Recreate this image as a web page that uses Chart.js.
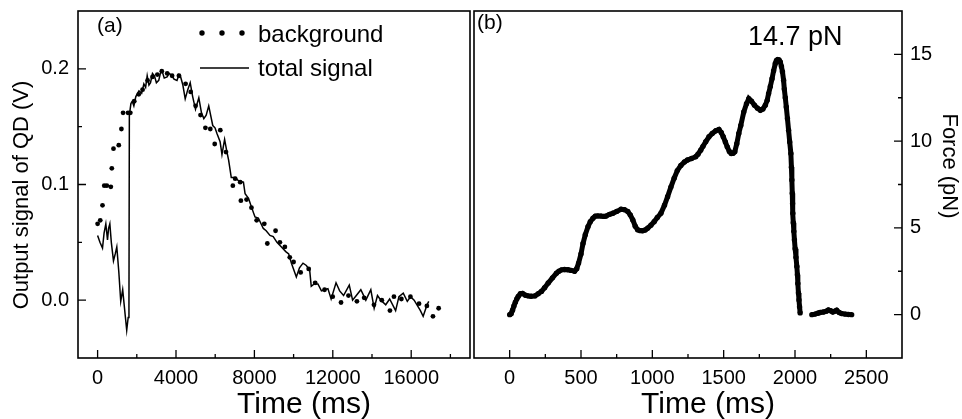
<!DOCTYPE html>
<html>
<head>
<meta charset="utf-8">
<script src="https://cdn.jsdelivr.net/npm/chart.js@4.4.0/dist/chart.umd.min.js"></script>
<style>
  html, body { margin: 0; padding: 0; background: #fff; }
  #wrap { position: relative; width: 962px; height: 419px; overflow: hidden; background: #fff; }
  #chart-a { position: absolute; left: 0; top: 0; }
  #chart-b { position: absolute; left: 470px; top: 0; }
</style>
</head>
<body>
<div id="wrap">
  <canvas id="chart-a" width="474" height="419"></canvas>
  <canvas id="chart-b" width="492" height="419"></canvas>
</div>
<script>
// panel (a): background (dots)
const bgTime = [0, 135, 250, 340, 470, 675, 725, 810, 1080, 1215, 1300, 1550, 1670, 1870, 2100, 2295, 2550, 2800,
  3050, 3275, 3550, 3800, 4150, 4490, 4750, 5000, 5250, 5500, 5750, 5975, 6260, 6550, 6900, 7020, 7275, 7310,
  7600, 7850, 8115, 8505, 8660, 9080, 9300, 9555, 9805, 10000, 10360, 10770, 11100, 11580, 11995, 12420, 12800,
  13230, 13600, 14100, 14500, 14915, 15120, 15500, 15960, 16400, 16800, 17110, 17400];
const bgSignal = [0.066, 0.069, 0.082, 0.099, 0.099, 0.098, 0.114, 0.131, 0.134, 0.148, 0.162, 0.162, 0.162, 0.172,
  0.178, 0.182, 0.190, 0.193, 0.195, 0.198, 0.196, 0.194, 0.194, 0.187, 0.180, 0.168, 0.160, 0.149, 0.148, 0.135,
  0.147, 0.128, 0.099, 0.105, 0.102, 0.086, 0.087, 0.080, 0.069, 0.066, 0.049, 0.060, 0.050, 0.046, 0.037, 0.033,
  0.024, 0.027, 0.015, 0.009, 0.003, -0.002, 0.004, -0.001, 0.002, -0.004, 0.000, -0.009, 0.003, 0.001, 0.003,
  -0.003, -0.005, -0.014, -0.007];

// panel (a): total signal (line)
const totalTime = [0, 120, 250, 330, 420, 505, 560, 625, 700, 810, 900, 980, 1080, 1180, 1280, 1350, 1420, 1485,
  1560, 1600, 1620, 1700, 1770, 1850, 1950, 2110, 2250, 2360, 2450, 2530, 2620, 2700, 2800, 2900, 3000, 3120,
  3200, 3290, 3400, 3545, 3650, 3800, 3900, 4050, 4150, 4220, 4350, 4470, 4600, 4725, 4850, 4995, 5165, 5300,
  5420, 5540, 5670, 5875, 5990, 6090, 6250, 6345, 6480, 6600, 6685, 6820, 7020, 7200, 7440, 7525, 7700, 7860,
  8030, 8200, 8455, 8600, 8795, 8960, 9150, 9380, 9600, 9750, 9890, 10140, 10300, 10480, 10650, 10820, 10900,
  11050, 11240, 11420, 11580, 11750, 11915, 12165, 12350, 12550, 12840, 13010, 13200, 13430, 13685, 13940,
  14110, 14280, 14450, 14700, 14900, 15205, 15375, 15595, 15800, 15965, 16150, 16470, 16610, 16810, 16895];
const totalSignal = [0.056, 0.050, 0.045, 0.058, 0.066, 0.052, 0.062, 0.066, 0.050, 0.034, 0.040, 0.046, 0.025,
  -0.001, 0.009, -0.003, -0.015, -0.026, -0.015, -0.007, 0.160, 0.170, 0.172, 0.168, 0.176, 0.181, 0.179, 0.187,
  0.184, 0.194, 0.186, 0.188, 0.196, 0.194, 0.188, 0.190, 0.196, 0.198, 0.192, 0.193, 0.196, 0.194, 0.191, 0.190,
  0.195, 0.194, 0.186, 0.174, 0.182, 0.188, 0.176, 0.165, 0.175, 0.162, 0.157, 0.160, 0.168, 0.151, 0.149, 0.144,
  0.137, 0.126, 0.139, 0.128, 0.121, 0.106, 0.106, 0.103, 0.102, 0.092, 0.088, 0.080, 0.072, 0.071, 0.062, 0.060,
  0.056, 0.055, 0.050, 0.046, 0.042, 0.040, 0.032, 0.020, 0.028, 0.032, 0.030, 0.026, 0.012, 0.014, 0.014, 0.008,
  0.009, 0.010, 0.001, 0.015, 0.008, 0.004, 0.013, 0.000, 0.004, 0.009, 0.000, 0.009, -0.007, 0.004, 0.000,
  -0.004, 0.001, -0.009, 0.003, 0.006, -0.001, 0.003, 0.000, -0.009, -0.014, -0.004, -0.001];

// panel (b): force before rupture
const forceTime = [0, 10, 20, 30, 40, 50, 60, 75, 90, 110, 130, 150, 177, 200, 223, 245, 270, 300, 328, 345, 363,
  385, 409, 430, 455, 470, 483, 500, 514, 530, 549, 565, 584, 600, 618, 640, 660, 676, 700, 723, 750, 781, 805,
  828, 845, 863, 880, 897, 915, 932, 950, 967, 990, 1013, 1035, 1060, 1085, 1107, 1130, 1153, 1175, 1200, 1225,
  1246, 1275, 1304, 1320, 1339, 1355, 1374, 1397, 1420, 1445, 1467, 1483, 1497, 1512, 1525, 1540, 1553, 1566,
  1578, 1592, 1606, 1620, 1641, 1660, 1676, 1695, 1716, 1737, 1757, 1775, 1792, 1805, 1815, 1827, 1839, 1850,
  1862, 1870, 1878, 1888, 1897, 1905, 1912, 1920, 1925, 1932, 1939, 1947, 1955, 1963, 1971, 1975, 1978, 1981,
  1983, 1985, 1988, 1992, 1996, 2001, 2007, 2013, 2017, 2020, 2024, 2028, 2032, 2036];
const forceValue = [0.0, 0.05, 0.25, 0.5, 0.72, 0.9, 1.05, 1.2, 1.22, 1.12, 1.08, 1.06, 1.08, 1.2, 1.34, 1.55, 1.82,
  2.12, 2.39, 2.5, 2.58, 2.6, 2.59, 2.55, 2.5, 2.65, 2.97, 3.5, 4.1, 4.6, 5.07, 5.35, 5.56, 5.68, 5.69, 5.68, 5.66,
  5.68, 5.78, 5.84, 5.95, 6.07, 6.05, 5.94, 5.75, 5.46, 5.1, 4.89, 4.84, 4.83, 4.88, 4.98, 5.15, 5.36, 5.6, 5.84,
  6.3, 6.8, 7.35, 7.86, 8.3, 8.6, 8.8, 8.91, 9.0, 9.1, 9.25, 9.48, 9.7, 9.96, 10.25, 10.44, 10.6, 10.67, 10.5,
  10.25, 9.95, 9.67, 9.4, 9.29, 9.3, 9.39, 9.85, 10.44, 10.9, 11.68, 12.15, 12.45, 12.3, 12.07, 11.9, 11.78,
  11.85, 12.07, 12.35, 12.74, 13.15, 13.6, 14.05, 14.47, 14.65, 14.7, 14.68, 14.56, 14.3, 14.0, 13.51, 13.0,
  12.5, 11.97, 11.3, 10.63, 9.95, 9.29, 8.5, 7.76, 7.0, 6.4, 5.84, 5.3, 4.8, 4.31, 3.8, 3.3, 2.78, 2.3, 1.8,
  1.25, 0.85, 0.45, 0.1];

// panel (b): after rupture
const tailTime = [2118, 2140, 2160, 2176, 2200, 2220, 2234, 2250, 2265, 2280, 2292, 2310, 2327, 2350, 2375, 2397];
const tailValue = [0.0, 0.03, 0.08, 0.12, 0.15, 0.2, 0.27, 0.22, 0.15, 0.2, 0.25, 0.12, 0.06, 0.03, 0.01, 0.0];

// ticks
const aXTicks = [0, 4000, 8000, 12000, 16000];
const aXMinor = [2000, 6000, 10000, 14000, 18000];
const aYTicks = [0, 0.1, 0.2];
const aYMinor = [0.05, 0.15];
const bXTicks = [0, 500, 1000, 1500, 2000, 2500];
const bXMinor = [250, 750, 1250, 1750, 2250];
const bYTicks = [0, 5, 10, 15];
const bYMinor = [2.5, 7.5, 12.5];

const FONT = "'Liberation Sans', Arial, Helvetica, sans-serif";
Chart.defaults.font.family = FONT;
Chart.defaults.color = '#000';

function toPoints(xs, ys) {
    return xs.map((x, i) => ({ x: x, y: ys[i] }));
}

// box around the plot, inward tick marks, free texts
const framePlugin = {
    id: 'frame',
    afterDraw(chart, args, opts) {
        const { ctx, chartArea: a, scales } = chart;
        const xs = scales.x, ys = scales.y;
        ctx.save();
        ctx.strokeStyle = '#000';
        ctx.lineWidth = 1.6;
        ctx.strokeRect(a.left, a.top, a.right - a.left, a.bottom - a.top);

        ctx.lineWidth = 1.3;
        ctx.beginPath();
        const xMark = (v, len) => {
            const p = xs.getPixelForValue(v);
            ctx.moveTo(p, a.bottom);
            ctx.lineTo(p, a.bottom - len);
        };
        const edge = opts.yRight ? a.right : a.left;
        const dir = opts.yRight ? -1 : 1;
        const yMark = (v, len) => {
            const p = ys.getPixelForValue(v);
            ctx.moveTo(edge, p);
            ctx.lineTo(edge + dir * len, p);
        };
        opts.xMajor.forEach(v => xMark(v, 8));
        opts.xMinor.forEach(v => xMark(v, 4));
        opts.yMajor.forEach(v => yMark(v, 8));
        opts.yMinor.forEach(v => yMark(v, 4));
        ctx.stroke();

        ctx.fillStyle = '#000';
        (opts.texts || []).forEach(t => {
            ctx.save();
            ctx.font = t.size + 'px ' + FONT;
            ctx.textAlign = t.align || 'left';
            ctx.textBaseline = 'alphabetic';
            ctx.translate(t.x, t.y);
            if (t.rot) ctx.rotate(t.rot);
            ctx.fillText(t.text, 0, 0);
            ctx.restore();
        });
        ctx.restore();
    }
};

// legend of panel (a), drawn with the dataset styles
const legendPlugin = {
    id: 'sampleLegend',
    afterDraw(chart) {
        const ctx = chart.ctx;
        const dots = chart.data.datasets[0];
        const line = chart.data.datasets[1];
        ctx.save();
        ctx.fillStyle = dots.pointBackgroundColor;
        [202, 222, 242].forEach(x => {
            ctx.beginPath();
            ctx.arc(x, 33, dots.pointRadius + 0.3, 0, Math.PI * 2);
            ctx.fill();
        });
        ctx.strokeStyle = line.borderColor;
        ctx.lineWidth = line.borderWidth;
        ctx.beginPath();
        ctx.moveTo(200, 68);
        ctx.lineTo(249, 68);
        ctx.stroke();
        ctx.fillStyle = '#000';
        ctx.font = '24px ' + FONT;
        ctx.textBaseline = 'alphabetic';
        ctx.fillText(dots.label, 258, 42);
        ctx.fillText(line.label, 258, 76);
        ctx.restore();
    }
};

function fixedTicks(list) {
    return scale => { scale.ticks = list.map(v => ({ value: v })); };
}

// fixed axis size, and no extra room asked for the end labels
function fitX(scale) {
    scale.height = 61;
    scale.paddingLeft = 0;
    scale.paddingRight = 0;
}
function fitY(width) {
    return scale => {
        scale.width = width;
        scale.paddingTop = 0;
        scale.paddingBottom = 0;
    };
}

function makePanelA() {
    const ctx = document.getElementById('chart-a').getContext('2d');
    new Chart(ctx, {
        type: 'scatter',
        data: {
            datasets: [{
                label: 'background',
                data: toPoints(bgTime, bgSignal),
                showLine: false,
                pointRadius: 2.4,
                pointBackgroundColor: '#000',
                pointBorderWidth: 0
            }, {
                label: 'total signal',
                data: toPoints(totalTime, totalSignal),
                showLine: true,
                borderColor: '#000',
                borderWidth: 1.5,
                pointRadius: 0,
                tension: 0
            }]
        },
        options: {
            responsive: false,
            animation: false,
            devicePixelRatio: 1,
            layout: { padding: { top: 11, right: 2, left: 0, bottom: 0 } },
            scales: {
                x: {
                    type: 'linear', min: -1000, max: 19000,
                    afterBuildTicks: fixedTicks(aXTicks),
                    afterFit: fitX,
                    grid: { display: false, drawTicks: false },
                    border: { display: false },
                    ticks: { padding: 8, font: { size: 20 }, maxRotation: 0, autoSkip: false, callback: v => String(v) }
                },
                y: {
                    type: 'linear', min: -0.05, max: 0.25,
                    afterBuildTicks: fixedTicks(aYTicks),
                    afterFit: fitY(78),
                    grid: { display: false, drawTicks: false },
                    border: { display: false },
                    ticks: { padding: 9, font: { size: 20 }, autoSkip: false, callback: v => v.toFixed(1) }
                }
            },
            plugins: {
                legend: { display: false },
                tooltip: { enabled: false },
                frame: {
                    xMajor: aXTicks, xMinor: aXMinor, yMajor: aYTicks, yMinor: aYMinor, yRight: false,
                    texts: [
                        { text: '(a)', x: 97, y: 32, size: 21 },
                        { text: 'Time (ms)', x: 304, y: 413, size: 30, align: 'center' },
                        { text: 'Output signal of QD (V)', x: 28, y: 195, size: 22, align: 'center', rot: -Math.PI / 2 }
                    ]
                }
            }
        },
        plugins: [framePlugin, legendPlugin]
    });
}

function makePanelB() {
    const ctx = document.getElementById('chart-b').getContext('2d');
    const style = {
        showLine: true,
        borderColor: '#000',
        borderWidth: 5,
        pointRadius: 2.7,
        pointBackgroundColor: '#000',
        pointBorderWidth: 0,
        tension: 0
    };
    new Chart(ctx, {
        type: 'scatter',
        data: {
            datasets: [
                Object.assign({ label: 'force', data: toPoints(forceTime, forceValue) }, style),
                Object.assign({ label: 'after', data: toPoints(tailTime, tailValue) }, style)
            ]
        },
        options: {
            responsive: false,
            animation: false,
            devicePixelRatio: 1,
            layout: { padding: { top: 11, right: 0, left: 2, bottom: 0 } },
            scales: {
                x: {
                    type: 'linear', min: -250, max: 2750,
                    afterBuildTicks: fixedTicks(bXTicks),
                    afterFit: fitX,
                    grid: { display: false, drawTicks: false },
                    border: { display: false },
                    ticks: { padding: 8, font: { size: 20 }, maxRotation: 0, autoSkip: false, callback: v => String(v) }
                },
                y: {
                    type: 'linear', position: 'right', min: -2.5, max: 17.5,
                    afterBuildTicks: fixedTicks(bYTicks),
                    afterFit: fitY(60),
                    grid: { display: false, drawTicks: false },
                    border: { display: false },
                    ticks: { padding: 8, font: { size: 20 }, autoSkip: false, callback: v => String(v) }
                }
            },
            plugins: {
                legend: { display: false },
                tooltip: { enabled: false },
                frame: {
                    xMajor: bXTicks, xMinor: bXMinor, yMajor: bYTicks, yMinor: bYMinor, yRight: true,
                    texts: [
                        { text: '(b)', x: 7, y: 29, size: 21 },
                        { text: '14.7 pN', x: 278, y: 45, size: 27 },
                        { text: 'Time (ms)', x: 238, y: 413, size: 30, align: 'center' },
                        { text: 'Force (pN)', x: 473, y: 166, size: 22, align: 'center', rot: Math.PI / 2 }
                    ]
                }
            }
        },
        plugins: [framePlugin]
    });
}

document.addEventListener('DOMContentLoaded', () => {
    makePanelA();
    makePanelB();
});
</script>
</body>
</html>
